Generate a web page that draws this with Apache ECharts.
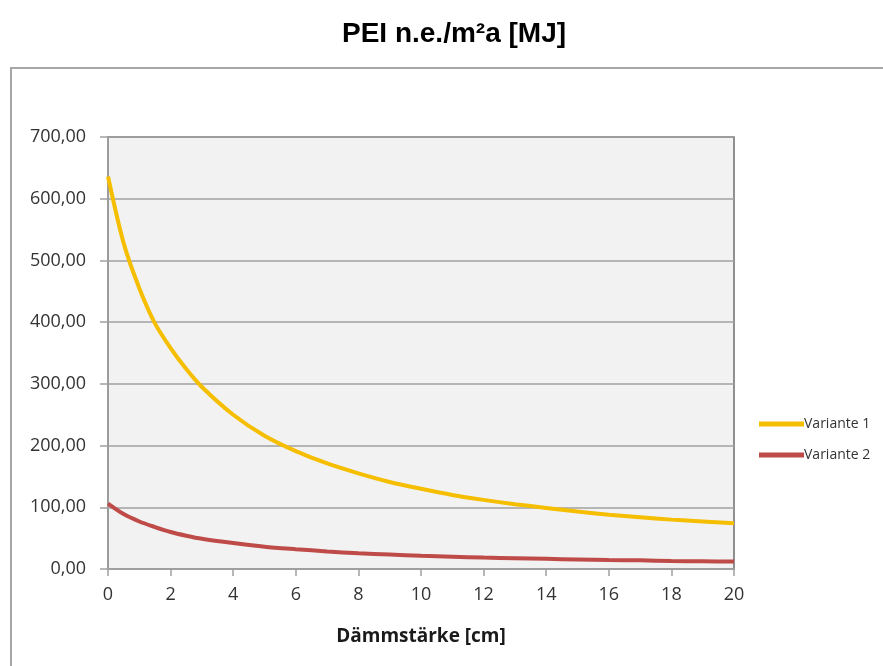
<!DOCTYPE html>
<html>
<head>
<meta charset="utf-8">
<title>PEI n.e./m²a [MJ]</title>
<script src="https://cdn.jsdelivr.net/npm/echarts@6/dist/echarts.min.js"></script>
<style>
  html, body { margin: 0; padding: 0; background: #ffffff; }
  #chart { width: 883px; height: 666px; }
</style>
</head>
<body>
<div id="chart"></div>
<script>
// Insulation thickness in cm
const thickness = [0, 0.5, 1, 1.5, 2, 2.5, 3, 4, 5, 6, 7, 8, 9, 10, 11, 12, 13, 14, 15, 16, 17, 18, 19, 20];
// PEI n.e. per m² and year [MJ]
const variante1 = [636, 528, 455, 398, 358, 324, 295, 250, 216, 191, 171, 155, 141, 130, 120, 112, 105, 99, 93, 88, 84, 80, 77, 74];
const variante2 = [106, 89, 77, 68, 60, 54, 49, 42, 36, 32, 28.5, 25.5, 23.5, 21.5, 20, 18.5, 17.5, 16.5, 15.5, 14.5, 14, 13, 12.5, 12];
const seriesNames = ['Variante 1', 'Variante 2'];
const seriesColors = ['#F5BE00', '#BE4B48'];
const yTicks = { min: 0, max: 700, step: 100 };
const xTicks = { min: 0, max: 20, step: 2 };

const pairs = (ys) => thickness.map((x, i) => [x, ys[i]]);

const chart = echarts.init(document.getElementById('chart'), null, { renderer: 'canvas' });

const labelFont = '"Open Sans", "DejaVu Sans", sans-serif';

chart.setOption({
  animation: false,
  backgroundColor: '#ffffff',
  title: {
    text: 'PEI n.e./m²a [MJ]',
    left: 337,
    top: 15,
    textStyle: {
      fontFamily: '"Liberation Sans", Arial, sans-serif',
      fontWeight: 'bold',
      fontSize: 28,
      color: '#000000'
    }
  },
  graphic: [{
    type: 'rect',
    silent: true,
    z: -1,
    shape: { x: 11, y: 68, width: 900, height: 640 },
    style: { fill: 'none', stroke: '#a6a6a6', lineWidth: 2 }
  }],
  legend: {
    orient: 'vertical',
    left: 754,
    top: 412,
    itemWidth: 45,
    itemHeight: 5,
    itemGap: 17,
    icon: 'rect',
    data: seriesNames,
    textStyle: {
      fontFamily: labelFont,
      fontSize: 14,
      color: '#333333',
      padding: [0, 0, 0, -5]
    }
  },
  grid: {
    left: 108,
    top: 137,
    width: 626,
    height: 432,
    show: true,
    backgroundColor: '#f2f2f2',
    borderColor: '#6e6e6e',
    borderWidth: 1.5,
    containLabel: false
  },
  xAxis: {
    type: 'value',
    min: xTicks.min,
    max: xTicks.max,
    interval: xTicks.step,
    name: 'Dämmstärke [cm]',
    nameLocation: 'middle',
    nameGap: 58,
    nameTextStyle: {
      fontFamily: labelFont,
      fontWeight: 'bold',
      fontSize: 19,
      color: '#1a1a1a'
    },
    axisLine: { show: true, lineStyle: { color: '#a0a0a0', width: 1.5 } },
    axisTick: { show: true, length: 7, lineStyle: { color: '#a0a0a0', width: 1.5 } },
    axisLabel: {
      margin: 17,
      fontFamily: labelFont,
      fontSize: 18,
      color: '#333333'
    },
    splitLine: { show: false }
  },
  yAxis: {
    type: 'value',
    min: yTicks.min,
    max: yTicks.max,
    interval: yTicks.step,
    axisLine: { show: true, lineStyle: { color: '#a0a0a0', width: 1.5 } },
    axisTick: { show: true, length: 8, lineStyle: { color: '#a0a0a0', width: 1.5 } },
    axisLabel: {
      margin: 22,
      fontFamily: labelFont,
      fontSize: 18,
      color: '#333333',
      formatter: (v) => v.toFixed(2).replace('.', ',')
    },
    splitLine: { show: true, lineStyle: { color: '#a0a0a0', width: 1.5 } }
  },
  series: [
    {
      name: seriesNames[0],
      type: 'line',
      data: pairs(variante1),
      smooth: 0.3,
      showSymbol: false,
      symbol: 'none',
      color: seriesColors[0],
      lineStyle: { width: 4, color: seriesColors[0] },
      z: 3
    },
    {
      name: seriesNames[1],
      type: 'line',
      data: pairs(variante2),
      smooth: 0.3,
      showSymbol: false,
      symbol: 'none',
      color: seriesColors[1],
      lineStyle: { width: 4, color: seriesColors[1] },
      z: 3
    }
  ]
});
</script>
</body>
</html>
